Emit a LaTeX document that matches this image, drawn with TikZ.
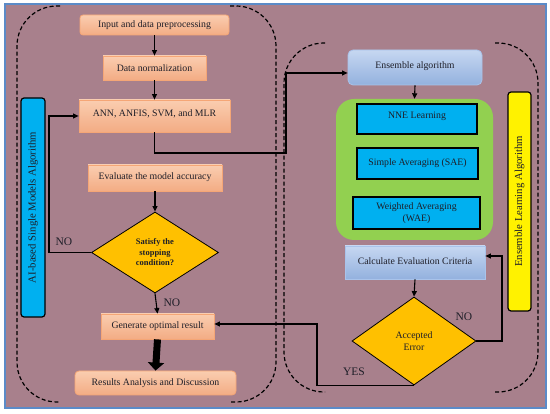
\documentclass[tikz,border=0pt]{standalone}
\usepackage{fontspec}
\setmainfont{Liberation Serif}
\usetikzlibrary{shapes.geometric,arrows.meta}
\definecolor{mauve}{HTML}{A8808C}
\definecolor{frameblue}{HTML}{5B8BC8}
\definecolor{salmonT}{HTML}{FACDB0}
\definecolor{salmonB}{HTML}{F3AC84}
\definecolor{salmonD}{HTML}{F5A676}
\definecolor{lbT}{HTML}{C6D7F1}
\definecolor{lbB}{HTML}{93B1DE}
\definecolor{lbD}{HTML}{A9C3EA}
\definecolor{cyanbox}{HTML}{00B0F0}
\definecolor{greenbox}{HTML}{92D050}
\definecolor{gold}{HTML}{FFC000}
\definecolor{txt}{HTML}{1E1E28}
\tikzset{
  base/.style={inner sep=0pt, align=center, text=txt, font=\fontsize{9.8}{11.5}\selectfont},
  salmonbox/.style={base, top color=salmonT, bottom color=salmonB, draw=salmonD, line width=0.8pt},
  bluebox/.style={base, top color=lbT, bottom color=lbB, draw=lbD, line width=0.8pt},
  cyanrect/.style={base, fill=cyanbox, draw=black, line width=1.5pt},
  decision/.style={base, diamond, fill=gold, draw=black, line width=0.8pt},
  bar/.style={base, rotate=90, draw=black, line width=1.2pt, rounded corners=3pt, font=\fontsize{10.7}{12}\selectfont},
  arr/.style={line width=1.1pt, -{Triangle[length=5.5pt,width=5pt]}},
  bracket/.style={line width=1.2pt, dash pattern=on 4pt off 2.5pt, rounded corners=40pt},
  lbl/.style={inner sep=0pt, text=txt, font=\fontsize{11.5}{13}\selectfont}
}
\begin{document}
\begin{tikzpicture}[x=1pt,y=-1pt]
\useasboundingbox (0,0) rectangle (550,414);
\fill[white] (0,0) rectangle (550,414);
\draw[fill=mauve, draw=frameblue, line width=1.4pt] (5,4) rectangle (546,408);

% dashed brackets
\draw[bracket] (60,6) -- (17,6) -- (17,402) -- (60,402);
\draw[bracket] (230,6) -- (276,6) -- (276,402) -- (230,402);
\draw[bracket] (325,43) -- (284,43) -- (284,392) -- (325,392);
\draw[bracket] (495,43) -- (538,43) -- (538,392) -- (495,392);

% left column
\node[salmonbox, rounded corners=3pt, minimum width=149pt, minimum height=20pt] (inp) at (154.5,25) {Input and data preprocessing};
\node[salmonbox, minimum width=103pt, minimum height=24pt] (norm) at (154.5,68) {Data normalization};
\node[salmonbox, minimum width=151pt, minimum height=32pt] (ann) at (154.5,116) {\raisebox{6pt}{ANN, ANFIS, SVM, and MLR}};
\node[salmonbox, minimum width=134pt, minimum height=26pt] (eval) at (155,178) {\raisebox{4pt}{Evaluate the model accuracy}};
\node[decision, minimum width=127pt, minimum height=81pt, font=\bfseries\fontsize{8.5}{10.5}\selectfont] (dia1) at (155,252.5) {Satisfy the\\stopping\\condition?};
\node[salmonbox, minimum width=113pt, minimum height=25pt] (gen) at (157.5,326.5) {Generate optimal result};
\node[salmonbox, rounded corners=4pt, minimum width=161pt, minimum height=24pt] (res) at (155.5,383) {Results Analysis and Discussion};
\node[bar, fill=cyanbox, minimum width=219pt, minimum height=24pt] (aibar) at (33,207.5) {AI-based Single Models Algorithm};

% right column
\node[bluebox, rounded corners=5pt, minimum width=134pt, minimum height=35pt] (ens) at (415,67.5) {\raisebox{4pt}{Ensemble algorithm}};
\node[fill=greenbox, rounded corners=18pt, minimum width=157pt, minimum height=141pt, inner sep=0pt] (grn) at (414.5,169.5) {};
\node[cyanrect, minimum width=120pt, minimum height=30pt] (nne) at (417,119) {\raisebox{8pt}{NNE Learning}};
\node[cyanrect, minimum width=121pt, minimum height=31pt] (sae) at (417.5,163.5) {Simple Averaging (SAE)};
\node[cyanrect, minimum width=127pt, minimum height=32pt] (wae) at (416.5,213) {Weighted Averaging\\(WAE)};
\node[bluebox, minimum width=140pt, minimum height=33pt] (calc) at (415,262.5) {\raisebox{3pt}{Calculate Evaluation Criteria}};
\node[decision, minimum width=124pt, minimum height=88pt, font=\fontsize{9.8}{12}\selectfont] (dia2) at (414,341) {Accepted\\Error};
\node[bar, fill=yellow, minimum width=219pt, minimum height=23pt] (ybar) at (519.5,201.5) {Ensemble Learning Algorithm};

% coordinates
\coordinate (k1) at (286,153);
\coordinate (k2) at (49,116);
\coordinate (k3) at (502,256);
\coordinate (k4) at (317,324);

% connectors
\draw[arr] (inp) -- (norm);
\draw[arr] (norm) -- (ann);
\draw[arr] (ann.south) |- (k1) |- ([yshift=-5.5pt]ens.west);
\draw[arr] (eval) -- (dia1);
\draw[arr] (dia1.west) -| (k2) -- (ann.west);
\node[lbl] (no1) at (64,242) {NO};
\draw[arr] (dia1.south) -- (gen.north);
\node[lbl] (no2) at (172,303) {NO};
\draw[line width=7pt, -{Triangle[width=16pt,length=8pt]}] (gen.south) -- (res.north);

\draw[arr] (ens.south) -- (grn.north);
\draw[arr] (calc.south) -- (dia2.north);
\draw[arr] (dia2.east) -| (k3) -- ([yshift=6.5pt]calc.east);
\node[lbl] (no3) at (464,317) {NO};
\draw[arr] (dia2.south) -| (k4) -- (gen.east |- k4);
\node[lbl] (yes) at (354,372) {YES};
\end{tikzpicture}
\end{document}
